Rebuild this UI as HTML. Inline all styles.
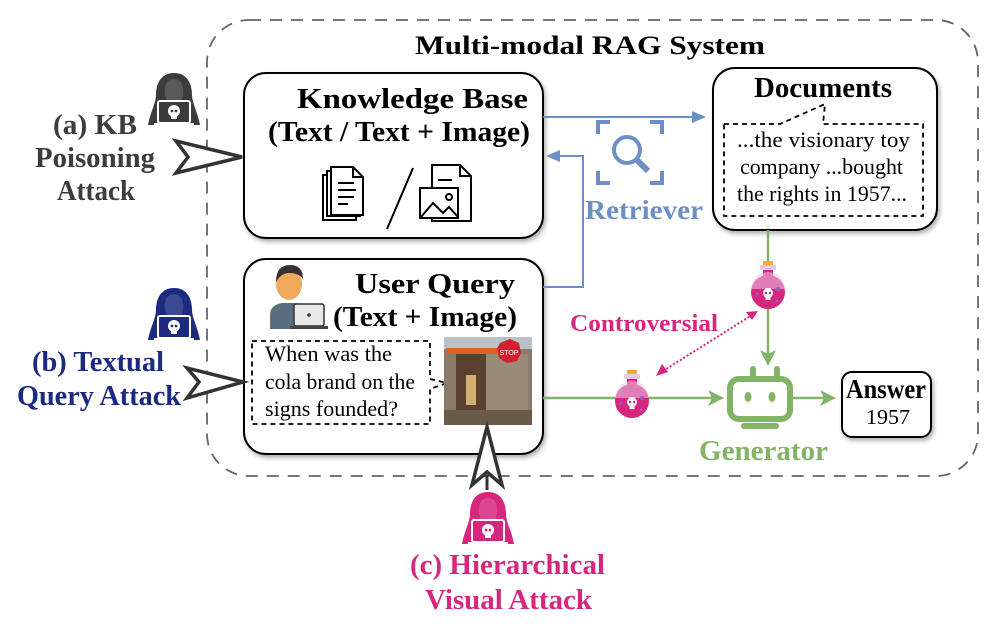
<!DOCTYPE html>
<html><head><meta charset="utf-8"><style>
html,body{margin:0;padding:0;background:#fff;}
svg{display:block;font-family:"Liberation Serif",serif;}
</style></head><body>
<svg width="997" height="633" viewBox="0 0 997 633" xmlns="http://www.w3.org/2000/svg">
<defs>
<filter id="sh" x="-10%" y="-10%" width="120%" height="130%"><feDropShadow dx="2" dy="3" stdDeviation="2" flood-color="#000" flood-opacity="0.3"/></filter>
<symbol id="hk" viewBox="0 0 52 54">
<path d="M26 0 C12 0 8 12 8 22 C8 30 2 40 0 52 L52 52 C50 40 44 30 44 22 C44 12 40 0 26 0Z" fill="currentColor"/>
<path d="M26 6 C18 6 16 14 17 22 C18 28 22 31 26 31 C30 31 34 28 35 22 C36 14 34 6 26 6Z" fill="#fff" opacity="0.15"/>
<rect x="10" y="28" width="32" height="22" rx="2" fill="currentColor" stroke="#fff" stroke-width="2"/>
<circle cx="26" cy="38" r="6" fill="#fff"/>
<rect x="23" y="42" width="6" height="4" fill="#fff"/>
<circle cx="24" cy="38" r="1.4" fill="currentColor"/><circle cx="28" cy="38" r="1.4" fill="currentColor"/>
<rect x="6" y="50" width="40" height="2" fill="#fff"/>
</symbol>
<symbol id="fl" viewBox="0 0 36 48">
<rect x="13" y="0" width="10" height="4" fill="#f5a742"/>
<rect x="10" y="4" width="16" height="5" rx="1" fill="#e9c6e6"/>
<rect x="13" y="9" width="10" height="7" fill="#d6267e"/>
<circle cx="18" cy="31" r="17" fill="#d6267e"/>
<path d="M1 28 A17 17 0 0 1 35 28 Z" fill="#e9c6e6" opacity="0.55"/>
<circle cx="18" cy="32" r="5" fill="#fff"/><rect x="15.5" y="35" width="5" height="4" fill="#fff"/>
<circle cx="16" cy="32" r="1.2" fill="#d6267e"/><circle cx="20" cy="32" r="1.2" fill="#d6267e"/>
<circle cx="28" cy="28" r="2.2" fill="#a05cc0"/><circle cx="7" cy="33" r="1.5" fill="#a05cc0"/><circle cx="27" cy="40" r="1.5" fill="#a05cc0"/>
</symbol>
</defs>

<rect x="207" y="20" width="771" height="456" rx="42" fill="none" stroke="#666" stroke-width="1.8" stroke-dasharray="12,9"/>
<text x="415" y="54" font-size="26" font-weight="bold" textLength="350" lengthAdjust="spacingAndGlyphs">Multi-modal RAG System</text>

<rect x="244" y="73" width="299" height="165" rx="22" fill="#fff" stroke="#000" stroke-width="2" filter="url(#sh)"/>
<text x="297" y="108" font-size="29" font-weight="bold" textLength="231" lengthAdjust="spacingAndGlyphs">Knowledge Base</text>
<text x="268" y="141" font-size="29" font-weight="bold" textLength="262" lengthAdjust="spacingAndGlyphs">(Text / Text + Image)</text>
<g fill="#fff" stroke="#000" stroke-width="2">
<path d="M323 175 h25 l8 8 v37 h-33z"/>
<path d="M327 171 h25 l8 8 v37 h-33z"/>
<path d="M331 167 h22 l10 10 v38 h-32z"/>
<path d="M353 167 v10 h10" fill="none"/>
<path d="M338 183 h16 M338 190 h18 M338 197 h16 M338 204 h10" fill="none"/>
</g>
<line x1="413" y1="168" x2="387" y2="229" stroke="#000" stroke-width="2"/>
<g fill="#fff" stroke="#000" stroke-width="2">
<path d="M432 165 h28 l11 11 v45 h-39z"/>
<path d="M460 165 v11 h11" fill="none"/>
<path d="M438 180 h14" fill="none"/>
<rect x="420" y="188" width="38" height="30"/>
<path d="M421 217 l12 -14 l10 10 l6 -6 l9 10" fill="none"/>
<circle cx="449" cy="197" r="3"/>
</g>

<rect x="244" y="259" width="299" height="195" rx="22" fill="#fff" stroke="#000" stroke-width="2" filter="url(#sh)"/>
<text x="355" y="293" font-size="29" font-weight="bold" textLength="160" lengthAdjust="spacingAndGlyphs">User Query</text>
<text x="333" y="326" font-size="29" font-weight="bold" textLength="184" lengthAdjust="spacingAndGlyphs">(Text + Image)</text>
<path d="M270 329 v-14 q0 -10 12 -12 h14 q10 2 12 12 v14z" fill="#5a6e80"/>
<ellipse cx="289" cy="284" rx="13" ry="16" fill="#f0a85a"/>
<path d="M276 282 q0 -17 14 -17 q13 0 13 14 q-4 -6 -14 -6 q-8 0 -13 9z" fill="#3a3030"/>
<rect x="294" y="304" width="30" height="22" rx="2" fill="#e8e8e8" stroke="#333" stroke-width="1.5"/>
<rect x="290" y="326" width="38" height="3" fill="#444"/>
<circle cx="309" cy="315" r="1.8" fill="#333"/>
<path d="M252 341 H430 V379 L447 383 L430 389 V424 H252Z" fill="#fff" stroke="#000" stroke-width="1.8" stroke-dasharray="5,4"/>
<text font-size="22"><tspan x="265" y="361" textLength="127" lengthAdjust="spacingAndGlyphs">When was the</tspan></text>
<text font-size="22"><tspan x="265" y="389" textLength="150" lengthAdjust="spacingAndGlyphs">cola brand on the</tspan></text>
<text font-size="22"><tspan x="265" y="416" textLength="133" lengthAdjust="spacingAndGlyphs">signs founded?</tspan></text>
<rect x="444" y="337" width="88" height="88" fill="#8a7a6a"/>
<rect x="444" y="337" width="88" height="12" fill="#b8c0c8"/>
<rect x="446" y="348" width="60" height="6" fill="#e0602a"/>
<rect x="456" y="354" width="30" height="56" fill="#5a4030"/>
<rect x="486" y="354" width="42" height="56" fill="#9a8a78"/>
<polygon points="500,343 510,339 519,343 521,353 517,361 507,363 499,358 497,349" fill="#d52030"/>
<text x="509" y="355" font-size="7" fill="#fff" text-anchor="middle" font-family="Liberation Sans">STOP</text>
<rect x="444" y="410" width="88" height="15" fill="#6a5a48"/>
<rect x="466" y="375" width="10" height="30" fill="#d0b070"/>

<rect x="713" y="68" width="224" height="162" rx="22" fill="#fff" stroke="#000" stroke-width="2" filter="url(#sh)"/>
<text x="754" y="97" font-size="29" font-weight="bold" textLength="138" lengthAdjust="spacingAndGlyphs">Documents</text>
<path d="M724 124 H780 L825 104 L823 124 H923 V216 H724Z" fill="#fff" stroke="#000" stroke-width="1.8" stroke-dasharray="5,4"/>
<text font-size="22"><tspan x="737" y="147" textLength="173" lengthAdjust="spacingAndGlyphs">...the visionary toy</tspan></text>
<text font-size="22"><tspan x="740" y="174" textLength="163" lengthAdjust="spacingAndGlyphs">company ...bought</tspan></text>
<text font-size="22"><tspan x="737" y="201" textLength="170" lengthAdjust="spacingAndGlyphs">the rights in 1957...</tspan></text>

<rect x="842" y="372" width="89" height="65" rx="10" fill="#fff" stroke="#000" stroke-width="2" filter="url(#sh)"/>
<text x="846" y="398" font-size="27" font-weight="bold" textLength="80" lengthAdjust="spacingAndGlyphs">Answer</text>
<text x="866" y="424" font-size="21" textLength="44" lengthAdjust="spacingAndGlyphs">1957</text>

<g stroke="#6d8fc7" fill="none" stroke-width="4">
<path d="M598 134 v-12 h12 M650 122 h12 v12 M662 171 v12 h-12 M610 183 h-12 v-12"/>
<circle cx="627" cy="150" r="13"/>
<line x1="637" y1="160" x2="648" y2="171" stroke-width="6"/>
</g>
<text x="585" y="219" font-size="27" font-weight="bold" fill="#6d8fc7" textLength="118" lengthAdjust="spacingAndGlyphs">Retriever</text>
<g stroke="#6d8fc7" stroke-width="2" fill="none">
<line x1="543" y1="117" x2="696" y2="117"/>
<polyline points="543,287 583,287 583,156 555,156"/>
</g>
<polygon points="706,117 692,111 692,123" fill="#6d8fc7"/>
<polygon points="546,156 560,150 560,162" fill="#6d8fc7"/>

<g stroke="#82b366" stroke-width="2.5" fill="none">
<line x1="768" y1="230" x2="768" y2="355"/>
<line x1="543" y1="398" x2="712" y2="398"/>
<line x1="792" y1="398" x2="828" y2="398"/>
</g>
<polygon points="768,366 760,350 768,354 776,350" fill="#82b366"/>
<polygon points="724,398 708,390 712,398 708,406" fill="#82b366"/>
<polygon points="836,398 820,390 824,398 820,406" fill="#82b366"/>
<use href="#fl" x="750" y="261" width="36" height="48"/>
<use href="#fl" x="614" y="370" width="36" height="48"/>
<g fill="#82b366">
<rect x="750" y="366" width="6" height="14" rx="3"/><rect x="774" y="366" width="6" height="14" rx="3"/>
<rect x="730" y="379" width="60" height="40" rx="9" fill="none" stroke="#82b366" stroke-width="6"/>
<ellipse cx="748" cy="397" rx="3.5" ry="5"/><ellipse cx="772" cy="397" rx="3.5" ry="5"/>
<rect x="741" y="423" width="38" height="6" rx="3"/>
</g>
<text x="699" y="460" font-size="29" font-weight="bold" fill="#82b366" textLength="129" lengthAdjust="spacingAndGlyphs">Generator</text>

<text x="570" y="331" font-size="24" font-weight="bold" fill="#d6267e" textLength="148" lengthAdjust="spacingAndGlyphs">Controversial</text>
<line x1="663" y1="371" x2="752" y2="315" stroke="#d6267e" stroke-width="2" stroke-dasharray="2,2"/>
<polygon points="656,376 662,364 668,372" fill="#d6267e"/>
<polygon points="758,311 746,312 752,320" fill="#d6267e"/>

<use href="#hk" x="148" y="73" width="52" height="54" style="color:#3c3c3c"/>
<g font-size="29" font-weight="bold" fill="#3c3c3c">
<text x="53" y="134" textLength="84" lengthAdjust="spacingAndGlyphs">(a) KB</text>
<text x="35" y="167" textLength="120" lengthAdjust="spacingAndGlyphs">Poisoning</text>
<text x="57" y="200" textLength="78" lengthAdjust="spacingAndGlyphs">Attack</text>
</g>
<polygon points="242,157 176,141 188,157 176,173" fill="#fff" stroke="#333" stroke-width="3.5"/>

<use href="#hk" x="148" y="288" width="52" height="54" style="color:#1c2a80"/>
<g font-size="29" font-weight="bold" fill="#1c2a80">
<text x="32" y="371" textLength="132" lengthAdjust="spacingAndGlyphs">(b) Textual</text>
<text x="17" y="405" textLength="164" lengthAdjust="spacingAndGlyphs">Query Attack</text>
</g>
<polygon points="243,382 187,368 199,382 187,398" fill="#fff" stroke="#333" stroke-width="3.5"/>

<polygon points="487,427 472,485 487,472 502,485" fill="#fff" stroke="#333" stroke-width="3.5"/>
<line x1="487" y1="475" x2="487" y2="490" stroke="#333" stroke-width="3"/>
<use href="#hk" x="462" y="492" width="52" height="54" style="color:#d6267e"/>
<g font-size="29" font-weight="bold" fill="#d6267e">
<text x="410" y="574" textLength="195" lengthAdjust="spacingAndGlyphs">(c) Hierarchical</text>
<text x="425" y="609" textLength="167" lengthAdjust="spacingAndGlyphs">Visual Attack</text>
</g>
</svg>
</body></html>
